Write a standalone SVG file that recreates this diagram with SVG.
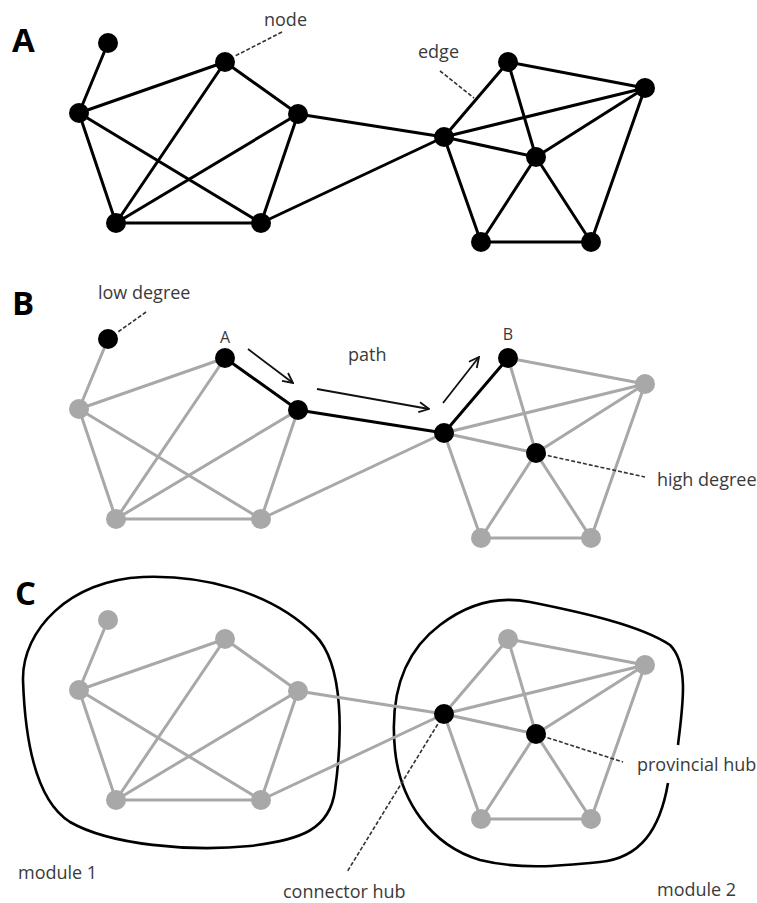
<svg xmlns="http://www.w3.org/2000/svg" width="757" height="903" viewBox="0 0 757 903">
<defs>
<style>
.bk{stroke:#000;stroke-width:3;fill:none;stroke-linecap:round}
.gy{stroke:#a8a8a8;stroke-width:3;fill:none;stroke-linecap:round}
.nb{fill:#000}
.ng{fill:#a8a8a8}
.dash{stroke:#333;stroke-width:1.6;stroke-dasharray:4 2;fill:none}
.arr{stroke:#111;stroke-width:1.8;fill:none;marker-end:url(#open)}
.mod{stroke:#000;stroke-width:2.6;fill:none}
.lbl{font-family:"Open Sans",Lato,sans-serif;font-size:18px;fill:#3a3a3a}
.pl{font-family:"Open Sans","Liberation Sans",sans-serif;font-size:33px;font-weight:bold;fill:#000}
</style>
<marker id="open" viewBox="0 0 12 12" refX="11" refY="6" markerWidth="12" markerHeight="12" markerUnits="userSpaceOnUse" orient="auto">
<path d="M1,1 L11,6 L1,11" fill="none" stroke="#111" stroke-width="1.8"/>
</marker>
</defs>
<rect width="757" height="903" fill="#fff"/>

<!-- Panel labels -->
<text class="pl" x="12" y="52">A</text>
<text class="pl" x="12" y="315">B</text>
<text class="pl" x="15" y="605">C</text>

<!-- Modules (panel C) -->
<g id="module1">
<path class="mod" d="M143,577 C200,575 270,590 315,635 C345,665 342,740 335,790 C330,830 300,840 250,846 C190,852 110,845 70,822 C35,800 25,740 23,680 C22,630 70,580 143,577 Z"/>
</g>
<g id="module2">
<path class="mod" d="M668,783 C660,830 640,858 600,862 C560,866 520,870 480,860 C430,845 400,800 395,750 C390,700 400,655 440,625 C470,602 500,596 530,602 C580,612 640,625 670,645 C690,665 682,710 678,745"/>
</g>

<g id="connectors">
<!-- Panel A -->
<g class="bk">
<line x1="108" y1="43" x2="79" y2="113"/>
<line x1="79" y1="113" x2="225" y2="62"/>
<line x1="79" y1="113" x2="116" y2="223"/>
<line x1="79" y1="113" x2="261" y2="223"/>
<line x1="225" y1="62" x2="298" y2="114"/>
<line x1="225" y1="62" x2="116" y2="223"/>
<line x1="298" y1="114" x2="116" y2="223"/>
<line x1="298" y1="114" x2="261" y2="223"/>
<line x1="116" y1="223" x2="261" y2="223"/>
<line x1="298" y1="114" x2="444" y2="137"/>
<line x1="261" y1="223" x2="444" y2="137"/>
<line x1="444" y1="137" x2="508" y2="62"/>
<line x1="444" y1="137" x2="645" y2="88"/>
<line x1="444" y1="137" x2="536" y2="157"/>
<line x1="444" y1="137" x2="481" y2="242"/>
<line x1="508" y1="62" x2="645" y2="88"/>
<line x1="508" y1="62" x2="536" y2="157"/>
<line x1="645" y1="88" x2="536" y2="157"/>
<line x1="645" y1="88" x2="591" y2="242"/>
<line x1="536" y1="157" x2="481" y2="242"/>
<line x1="536" y1="157" x2="591" y2="242"/>
<line x1="481" y1="242" x2="591" y2="242"/>
</g>
<!-- Panel B -->
<g class="gy">
<line x1="108" y1="339" x2="79" y2="409"/>
<line x1="79" y1="409" x2="225" y2="358"/>
<line x1="79" y1="409" x2="116" y2="519"/>
<line x1="79" y1="409" x2="261" y2="519"/>
<line x1="225" y1="358" x2="116" y2="519"/>
<line x1="298" y1="410" x2="116" y2="519"/>
<line x1="298" y1="410" x2="261" y2="519"/>
<line x1="116" y1="519" x2="261" y2="519"/>
<line x1="261" y1="519" x2="444" y2="433"/>
<line x1="444" y1="433" x2="645" y2="384"/>
<line x1="444" y1="433" x2="536" y2="453"/>
<line x1="444" y1="433" x2="481" y2="538"/>
<line x1="508" y1="358" x2="645" y2="384"/>
<line x1="508" y1="358" x2="536" y2="453"/>
<line x1="645" y1="384" x2="536" y2="453"/>
<line x1="645" y1="384" x2="591" y2="538"/>
<line x1="536" y1="453" x2="481" y2="538"/>
<line x1="536" y1="453" x2="591" y2="538"/>
<line x1="481" y1="538" x2="591" y2="538"/>
</g>
<g class="bk">
<line x1="225" y1="358" x2="298" y2="410"/>
<line x1="298" y1="410" x2="444" y2="433"/>
<line x1="444" y1="433" x2="508" y2="358"/>
</g>
<line class="arr" x1="248" y1="349" x2="293" y2="383"/>
<line class="arr" x1="317" y1="389" x2="429" y2="409"/>
<line class="arr" x1="443" y1="403" x2="479" y2="357"/>
<!-- Panel C -->
<g class="gy">
<line x1="108" y1="620" x2="79" y2="690"/>
<line x1="79" y1="690" x2="225" y2="639"/>
<line x1="79" y1="690" x2="116" y2="800"/>
<line x1="79" y1="690" x2="261" y2="800"/>
<line x1="225" y1="639" x2="298" y2="691"/>
<line x1="225" y1="639" x2="116" y2="800"/>
<line x1="298" y1="691" x2="116" y2="800"/>
<line x1="298" y1="691" x2="261" y2="800"/>
<line x1="116" y1="800" x2="261" y2="800"/>
<line x1="298" y1="691" x2="444" y2="714"/>
<line x1="261" y1="800" x2="444" y2="714"/>
<line x1="444" y1="714" x2="508" y2="639"/>
<line x1="444" y1="714" x2="645" y2="665"/>
<line x1="444" y1="714" x2="536" y2="734"/>
<line x1="444" y1="714" x2="481" y2="819"/>
<line x1="508" y1="639" x2="645" y2="665"/>
<line x1="508" y1="639" x2="536" y2="734"/>
<line x1="645" y1="665" x2="536" y2="734"/>
<line x1="645" y1="665" x2="591" y2="819"/>
<line x1="536" y1="734" x2="481" y2="819"/>
<line x1="536" y1="734" x2="591" y2="819"/>
<line x1="481" y1="819" x2="591" y2="819"/>
</g>
<!-- Annotation leaders -->
<line class="dash" x1="282" y1="32" x2="235" y2="56"/>
<line class="dash" x1="440" y1="71" x2="474" y2="98"/>
<line class="dash" x1="146" y1="312" x2="118" y2="332"/>
<line class="dash" x1="536" y1="453" x2="645" y2="477"/>
<line class="dash" x1="444" y1="714" x2="347" y2="872"/>
<line class="dash" x1="536" y1="734" x2="623" y2="762"/>
</g>

<!-- Panel A nodes -->
<g id="a-n1"><circle class="nb" cx="108" cy="43" r="10"/></g>
<g id="a-n2"><circle class="nb" cx="79" cy="113" r="10"/></g>
<g id="a-n3"><circle class="nb" cx="225" cy="62" r="10"/></g>
<g id="a-n4"><circle class="nb" cx="298" cy="114" r="10"/></g>
<g id="a-n5"><circle class="nb" cx="116" cy="223" r="10"/></g>
<g id="a-n6"><circle class="nb" cx="261" cy="223" r="10"/></g>
<g id="a-n7"><circle class="nb" cx="444" cy="137" r="10"/></g>
<g id="a-n8"><circle class="nb" cx="508" cy="62" r="10"/></g>
<g id="a-n9"><circle class="nb" cx="645" cy="88" r="10"/></g>
<g id="a-n10"><circle class="nb" cx="536" cy="157" r="10"/></g>
<g id="a-n11"><circle class="nb" cx="481" cy="242" r="10"/></g>
<g id="a-n12"><circle class="nb" cx="591" cy="242" r="10"/></g>

<!-- Panel B nodes -->
<g id="b-n1"><circle class="nb" cx="108" cy="339" r="10"/></g>
<g id="b-n2"><circle class="ng" cx="79" cy="409" r="10"/></g>
<g id="b-n3"><circle class="nb" cx="225" cy="358" r="10"/></g>
<g id="b-n4"><circle class="nb" cx="298" cy="410" r="10"/></g>
<g id="b-n5"><circle class="ng" cx="116" cy="519" r="10"/></g>
<g id="b-n6"><circle class="ng" cx="261" cy="519" r="10"/></g>
<g id="b-n7"><circle class="nb" cx="444" cy="433" r="10"/></g>
<g id="b-n8"><circle class="nb" cx="508" cy="358" r="10"/></g>
<g id="b-n9"><circle class="ng" cx="645" cy="384" r="10"/></g>
<g id="b-n10"><circle class="nb" cx="536" cy="453" r="10"/></g>
<g id="b-n11"><circle class="ng" cx="481" cy="538" r="10"/></g>
<g id="b-n12"><circle class="ng" cx="591" cy="538" r="10"/></g>

<!-- Panel C nodes -->
<g id="c-n1"><circle class="ng" cx="108" cy="620" r="10"/></g>
<g id="c-n2"><circle class="ng" cx="79" cy="690" r="10"/></g>
<g id="c-n3"><circle class="ng" cx="225" cy="639" r="10"/></g>
<g id="c-n4"><circle class="ng" cx="298" cy="691" r="10"/></g>
<g id="c-n5"><circle class="ng" cx="116" cy="800" r="10"/></g>
<g id="c-n6"><circle class="ng" cx="261" cy="800" r="10"/></g>
<g id="c-n7"><circle class="nb" cx="444" cy="714" r="10"/></g>
<g id="c-n8"><circle class="ng" cx="508" cy="639" r="10"/></g>
<g id="c-n9"><circle class="ng" cx="645" cy="665" r="10"/></g>
<g id="c-n10"><circle class="nb" cx="536" cy="734" r="10"/></g>
<g id="c-n11"><circle class="ng" cx="481" cy="819" r="10"/></g>
<g id="c-n12"><circle class="ng" cx="591" cy="819" r="10"/></g>

<!-- Labels -->
<text class="lbl" x="264" y="26">node</text>
<text class="lbl" x="418" y="58">edge</text>
<text class="lbl" x="98" y="299">low degree</text>
<text class="lbl" x="225" y="343" text-anchor="middle" style="font-size:16px">A</text>
<text class="lbl" x="348" y="361">path</text>
<text class="lbl" x="508" y="340" text-anchor="middle" style="font-size:16px">B</text>
<text class="lbl" x="657" y="486">high degree</text>
<text class="lbl" x="18" y="879">module 1</text>
<text class="lbl" x="283" y="898">connector hub</text>
<text class="lbl" x="637" y="771">provincial hub</text>
<text class="lbl" x="657" y="896">module 2</text>
</svg>
